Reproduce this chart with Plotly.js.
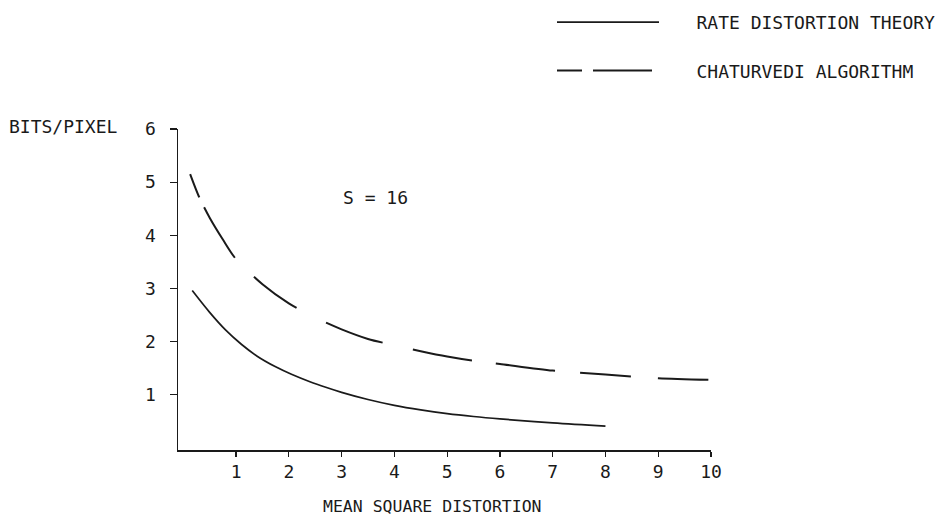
<!DOCTYPE html>
<html>
<head>
<meta charset="utf-8">
<script src="https://cdn.plot.ly/plotly-3.0.1.min.js"></script>
<style>html,body{margin:0;padding:0;background:#fff;}#chart{width:950px;height:519px;}</style>
</head>
<body>
<div id="chart"></div>
<script>
// Rate distortion theory curve (solid)
var rdX = [0.17, 0.5, 0.8, 1.1, 1.4, 1.75, 2.05, 2.4, 2.7, 3.0, 3.5, 4, 4.5, 5, 5.5, 6, 7, 8];
var rdY = [2.96, 2.55, 2.22, 1.95, 1.725, 1.525, 1.385, 1.245, 1.14, 1.045, 0.91, 0.80, 0.715, 0.645, 0.59, 0.545, 0.47, 0.41];
// Chaturvedi algorithm curve (dashed)
var chX = [0.13, 0.3, 0.5, 0.75, 1, 1.5, 2, 2.5, 3, 3.5, 4, 4.5, 5, 5.5, 6, 7, 8, 9, 9.95];
var chY = [5.15, 4.72, 4.33, 3.92, 3.55, 3.08, 2.72, 2.45, 2.23, 2.05, 1.93, 1.82, 1.72, 1.64, 1.58, 1.455, 1.38, 1.31, 1.28];
var seriesNames = ['RATE DISTORTION THEORY', 'CHATURVEDI ALGORITHM'];
var xTicks = [1, 2, 3, 4, 5, 6, 7, 8, 9, 10];
var yTicks = [1, 2, 3, 4, 5, 6];
var xTitle = 'MEAN SQUARE DISTORTION';
var yTitle = 'BITS/PIXEL';
var noteText = 'S = 16';

var FONT = 'DejaVu Sans Mono, monospace';
var INK = '#1a1a1a';
var pad = '\u00A0\u00A0\u00A0';

var traces = [
  {x: rdX, y: rdY, type: 'scatter', mode: 'lines', name: pad + seriesNames[0],
   legendgroup: 'a', line: {color: INK, width: 1.7, shape: 'spline', smoothing: 1}},
  {x: chX, y: chY, type: 'scatter', mode: 'lines', name: pad + seriesNames[1],
   legendgroup: 'b',
   line: {color: INK, width: 2, shape: 'spline', smoothing: 0.8,
          dash: '25px,11px,59px,27px,53px,33px,60px,31px,60px,24px,60px,25px,51px,27px,60px,300px'}}
];

var layout = {
  width: 950, height: 519,
  margin: {l: 178, r: 239, t: 129, b: 69, autoexpand: false},
  paper_bgcolor: '#fff', plot_bgcolor: '#fff',
  font: {family: FONT, size: 18, color: INK},
  showlegend: true,
  legend: {xref: 'container', yref: 'container', x: 552/950, y: 1 - 4/519,
           xanchor: 'left', yanchor: 'top', itemwidth: 102, tracegroupgap: 22,
           traceorder: 'grouped', font: {family: FONT, size: 18, color: INK},
           bgcolor: 'rgba(0,0,0,0)', borderwidth: 0},
  xaxis: {range: [-0.1, 10], tickvals: xTicks, ticktext: xTicks.map(String),
          showgrid: false, zeroline: false, showline: true, linecolor: INK, linewidth: 1.5,
          ticks: 'outside', ticklen: 5, tickwidth: 1.2, tickcolor: INK,
          tickfont: {family: FONT, size: 18, color: INK}, ticklabelstandoff: 0},
  yaxis: {range: [-0.04, 6], tickvals: yTicks, ticktext: yTicks.map(String),
          showgrid: false, zeroline: false, showline: true, linecolor: INK, linewidth: 1.5,
          ticks: 'outside', ticklen: 7, tickwidth: 1.2, tickcolor: INK,
          tickfont: {family: FONT, size: 18, color: INK}, ticklabelstandoff: 10},
  annotations: [
    {xref: 'paper', yref: 'paper', x: (120 - 178) / 533, y: (450 - 126) / 321,
     xanchor: 'right', yanchor: 'middle', showarrow: false, text: yTitle,
     font: {family: FONT, size: 18, color: INK}},
    {xref: 'paper', yref: 'paper', x: (432 - 178) / 533, y: (450 - 506) / 321,
     xanchor: 'center', yanchor: 'middle', showarrow: false, text: xTitle,
     font: {family: FONT, size: 16.5, color: INK}},
    {xref: 'x', yref: 'y', x: 3.65, y: 4.72, xanchor: 'center', yanchor: 'middle',
     showarrow: false, text: noteText, font: {family: FONT, size: 18, color: INK}}
  ]
};

Plotly.newPlot('chart', traces, layout, {staticPlot: true, displayModeBar: false});
</script>
</body>
</html>
